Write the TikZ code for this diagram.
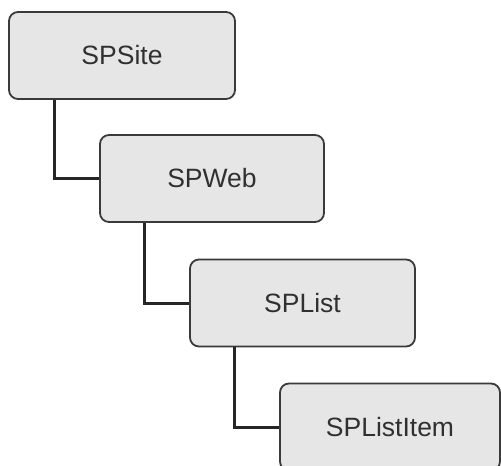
\documentclass[tikz,border=0pt]{standalone}
\usepackage{fontspec}
\setmainfont{Liberation Sans}
\usetikzlibrary{calc}
\definecolor{boxfill}{HTML}{E6E6E6}
\definecolor{boxline}{HTML}{3A3A3A}
\definecolor{txt}{HTML}{303030}
\tikzset{
  classbox/.style={draw=boxline, line width=1.8pt, fill=boxfill, rounded corners=9pt,
    minimum height=87pt, inner sep=0pt, text=txt, font=\fontsize{26.5}{31}\selectfont},
  link/.style={draw=black!85, line width=3pt}
}
\begin{document}
\begin{tikzpicture}[x=1pt,y=1pt]
\useasboundingbox (0,0) rectangle (501,-466);
\node[classbox, minimum width=226pt] (site) at (122,-55.5) {SPSite};
\node[classbox, minimum width=224pt] (web) at (212,-178.5) {SPWeb};
\node[classbox, minimum width=225pt] (list) at (302.5,-303) {SPList};
\node[classbox, minimum width=220pt] (item) at (390,-427) {SPListItem};
\draw[link] ($(site.south west)+(46,0)$) |- (web.west);
\draw[link] ($(web.south west)+(45,0)$) |- (list.west);
\draw[link] ($(list.south west)+(45,0)$) |- (item.west);
\end{tikzpicture}
\end{document}
